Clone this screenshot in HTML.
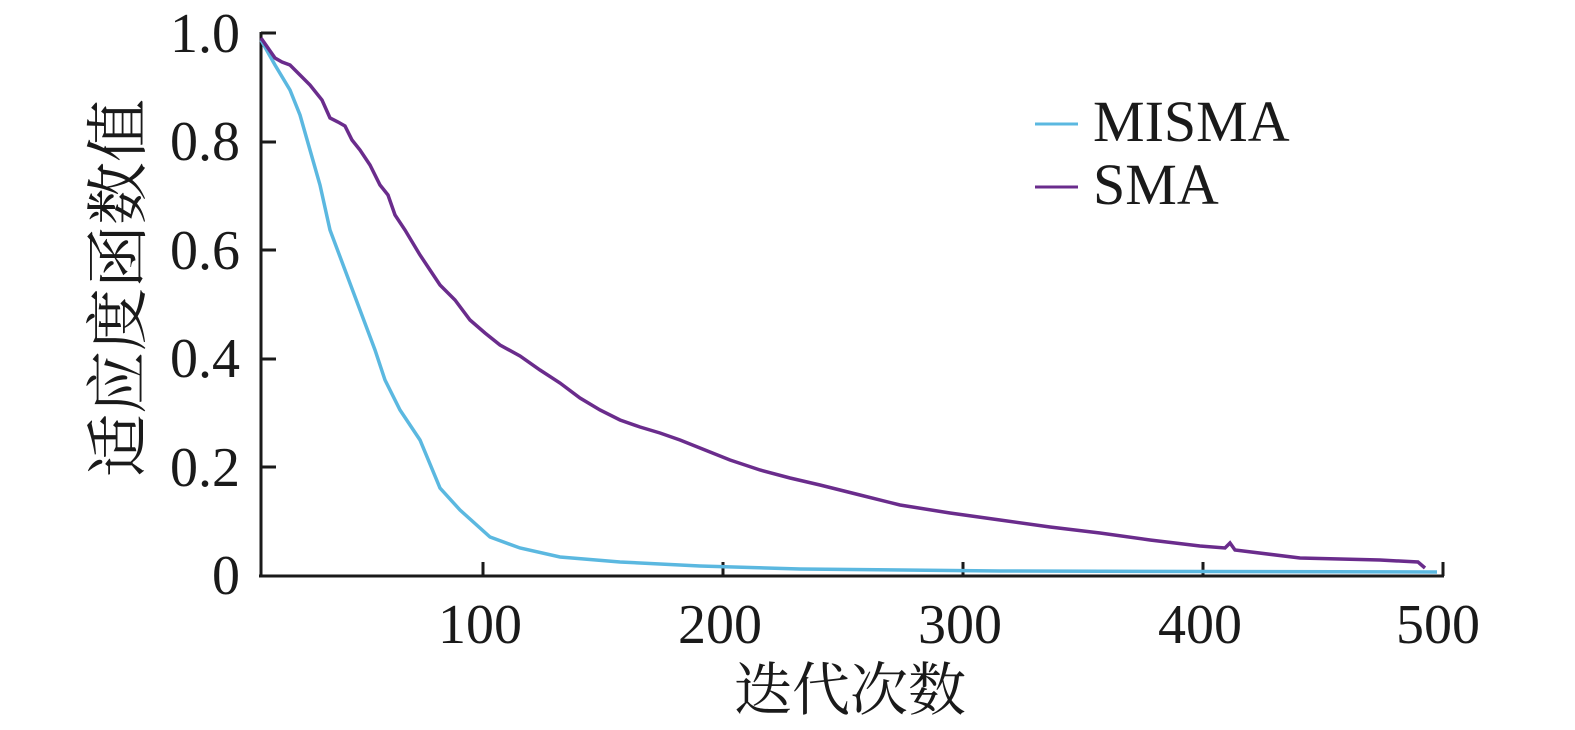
<!DOCTYPE html>
<html><head><meta charset="utf-8"><style>body{margin:0;background:#fff}</style></head>
<body>
<svg width="1575" height="725" xmlns="http://www.w3.org/2000/svg" font-family="'Liberation Serif','Noto Serif CJK SC',serif" fill="#1a1a1a">
<g stroke="#1a1a1a" stroke-width="3" fill="none">
<line x1="261" y1="32" x2="261" y2="577"/>
<line x1="259" y1="576" x2="1444" y2="576"/>
<line x1="261" y1="33" x2="276" y2="33"/>
<line x1="261" y1="142" x2="276" y2="142"/>
<line x1="261" y1="250" x2="276" y2="250"/>
<line x1="261" y1="359" x2="276" y2="359"/>
<line x1="261" y1="467" x2="276" y2="467"/>
<line x1="483" y1="576" x2="483" y2="562"/>
<line x1="723" y1="576" x2="723" y2="562"/>
<line x1="963" y1="576" x2="963" y2="562"/>
<line x1="1203" y1="576" x2="1203" y2="562"/>
<line x1="1443" y1="576" x2="1443" y2="562"/>
</g>
<g font-size="56" text-anchor="end">
<text x="240" y="52">1.0</text>
<text x="240" y="160">0.8</text>
<text x="240" y="269">0.6</text>
<text x="240" y="377">0.4</text>
<text x="240" y="486">0.2</text>
<text x="240" y="594">0</text>
</g>
<g font-size="56" text-anchor="middle">
<text x="480" y="643">100</text>
<text x="720" y="643">200</text>
<text x="960" y="643">300</text>
<text x="1200" y="643">400</text>
<text x="1438" y="643">500</text>
<text x="850" y="710" font-size="58">迭代次数</text>
<text transform="translate(140,288) rotate(-90)" font-size="63">适应度函数值</text>
</g>
<polyline fill="none" stroke="#5BB8E0" stroke-width="3.5" points="261,40 275,65 290,90 300,115 310,150 320,185 330,230 345,270 360,310 375,350 385,380 400,410 420,440 440,488 460,510 490,537 520,548 560,557 620,562 700,566 800,569 1000,571 1437,572"/>
<polyline fill="none" stroke="#6A2C8C" stroke-width="3.5" points="261,38 268,48 275,58 282,62 290,65 300,75 310,85 322,100 330,118 338,122 345,126 352,140 360,150 370,165 380,185 388,195 395,215 405,230 420,255 430,270 440,285 455,300 470,320 485,333 500,345 520,356 540,370 560,383 580,398 600,410 620,420 640,427 660,433 680,440 700,448 730,460 760,470 790,478 820,485 860,495 900,505 950,513 1000,520 1050,527 1100,533 1150,540 1200,546 1225,548 1230,543 1235,550 1300,558 1380,560 1418,562 1425,568"/>
<line x1="1035" y1="124" x2="1078" y2="124" stroke="#5BB8E0" stroke-width="3"/>
<line x1="1035" y1="187" x2="1078" y2="187" stroke="#6A2C8C" stroke-width="3"/>
<g font-size="58"><text x="1093" y="141">MISMA</text><text x="1093" y="204">SMA</text></g>
</svg>
</body></html>
